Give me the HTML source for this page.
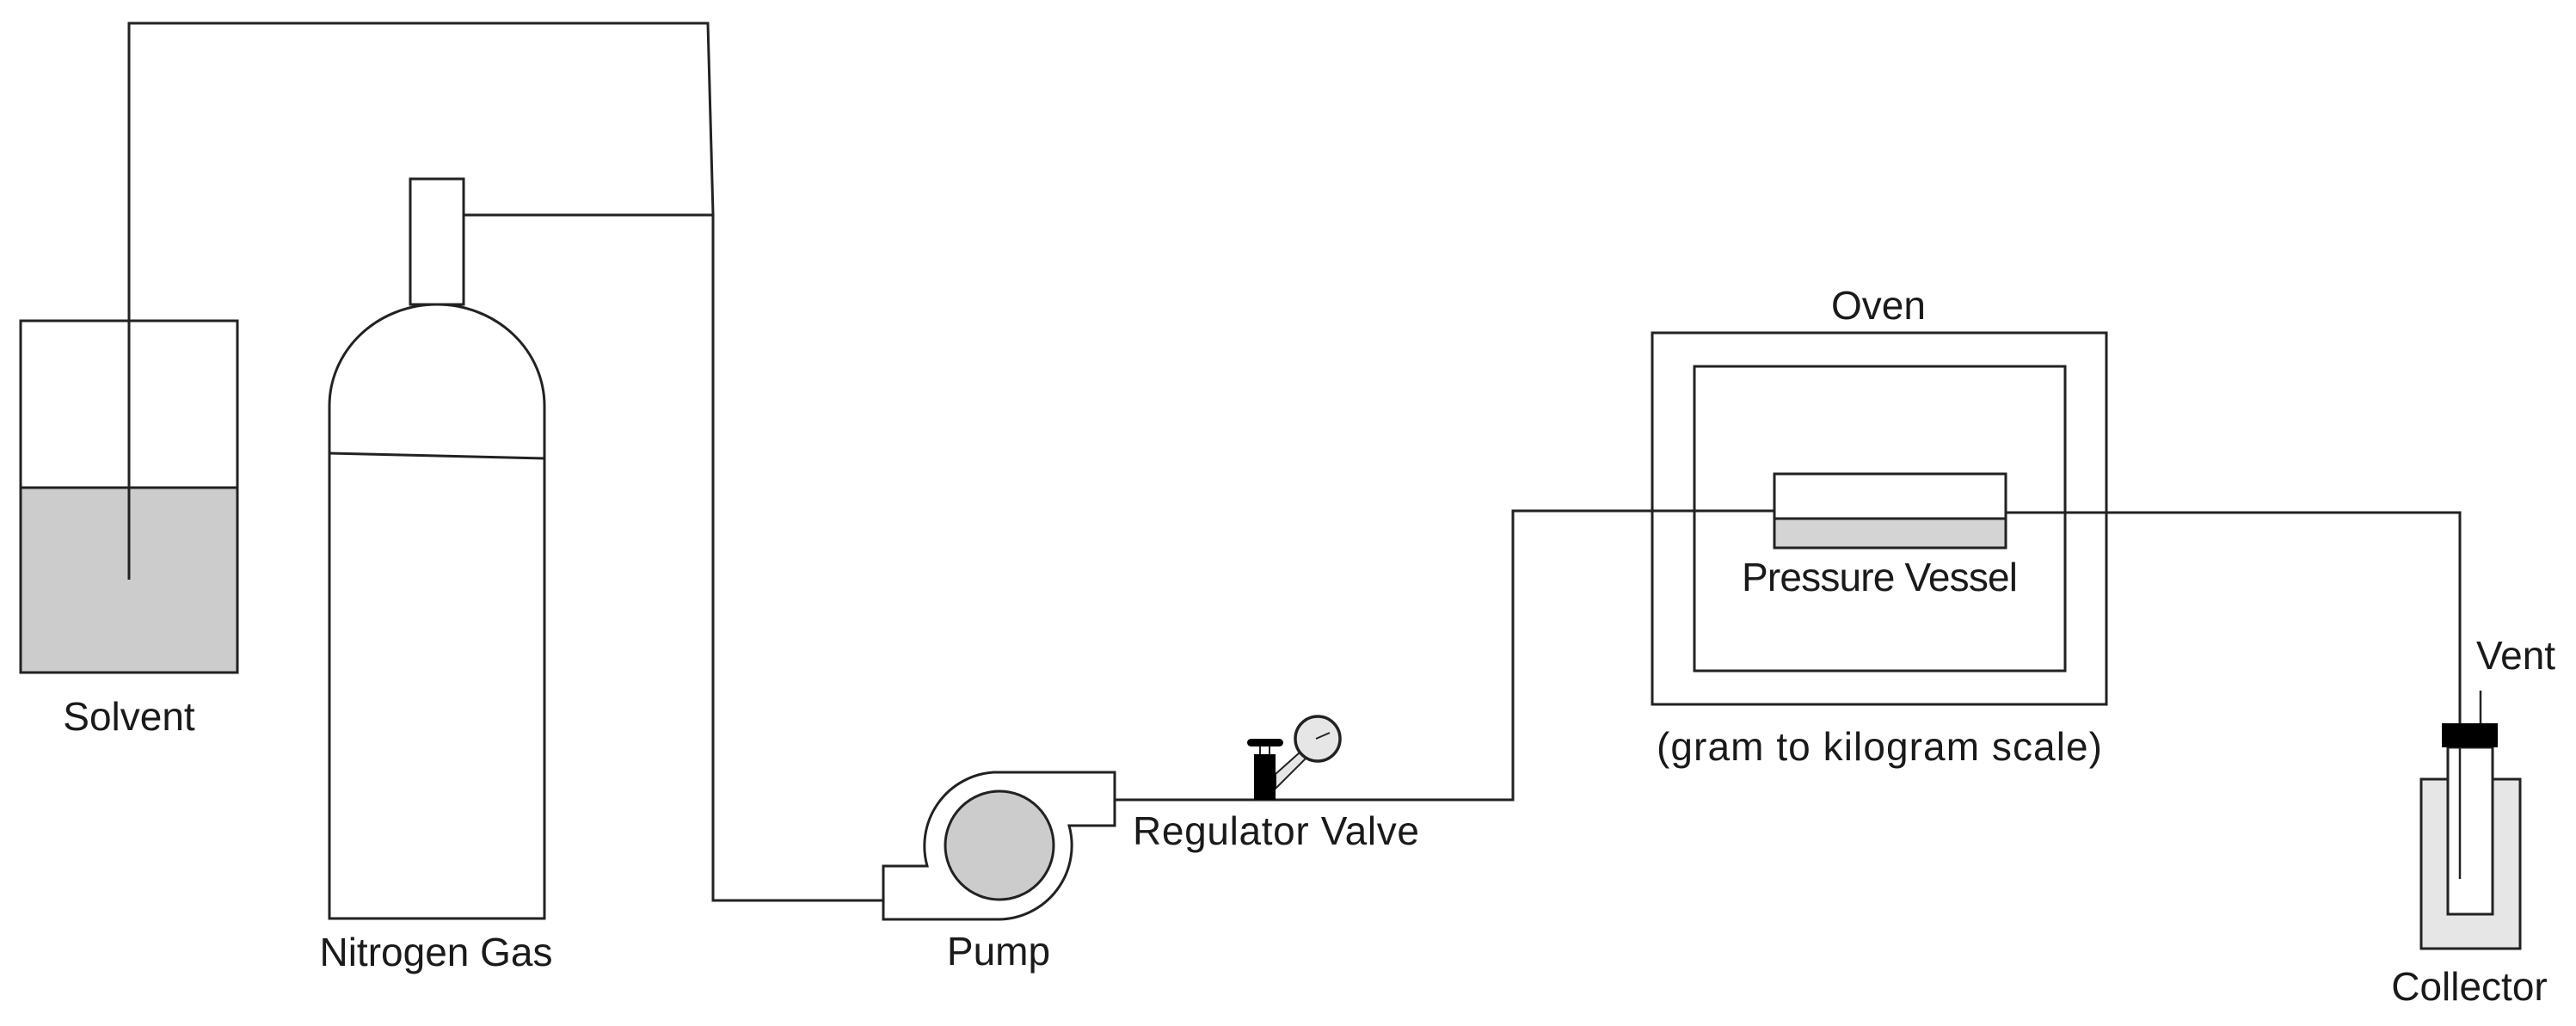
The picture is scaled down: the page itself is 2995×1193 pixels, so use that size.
<!DOCTYPE html>
<html><head><meta charset="utf-8"><style>
html,body{margin:0;padding:0;background:#fff;}
svg{display:block;}
text{font-family:"Liberation Sans",sans-serif;fill:#1a1a1a;}
</style></head><body>
<svg width="2995" height="1193" viewBox="0 0 2995 1193" xmlns="http://www.w3.org/2000/svg">
<g fill="none" stroke="#222" stroke-width="3">
<rect x="24" y="567" width="252" height="215" fill="#cccccc" stroke="none"/>
<rect x="24" y="373" width="252" height="409"/>
<line x1="24" y1="567" x2="276" y2="567"/>
<polyline points="150,674 150,27 823,27 829,249 829,1047 1027,1047"/>
<rect x="477" y="208" width="62" height="146"/>
<line x1="539" y1="250" x2="829" y2="250"/>
<path d="M383,1068 L383,472 A125,118 0 0 1 633,472 L633,1068 Z"/>
<line x1="383" y1="527" x2="633" y2="533"/>
<path d="M1027,1007 L1078,1007 A86,86 0 0 1 1155,898 L1296,898 L1296,960 L1243,960 A86,86 0 0 1 1161,1069 L1027,1069 Z" fill="#fff"/>
<circle cx="1162" cy="983" r="63" fill="#cccccc"/>
<polyline points="1296,930 1759,930 1759,594 2063,594"/>
<rect x="1921" y="387" width="528" height="432"/>
<rect x="1970" y="426" width="431" height="354"/>
<rect x="2063" y="603" width="269" height="34" fill="#d4d4d4"/>
<rect x="2063" y="551" width="269" height="86"/>
<line x1="2063" y1="603" x2="2332" y2="603"/>
<polyline points="2332,596 2860,596 2860,1022"/>
<rect x="2815" y="906" width="115" height="197" fill="#e6e6e6"/>
<rect x="2846" y="869" width="52" height="194" fill="#fff"/>
<line x1="2860" y1="860" x2="2860" y2="1022" stroke-width="2.5"/>
<line x1="2884" y1="803" x2="2884" y2="841" stroke-width="2.5"/>
</g>
<rect x="2839" y="841" width="65" height="28" fill="#000"/>
<g stroke="#222" stroke-width="2">
<line x1="1465" y1="866" x2="1465" y2="878"/>
<line x1="1476" y1="866" x2="1476" y2="878"/>
<polygon points="1483,900 1511,875 1518,882 1483,917" fill="#e6e6e6"/>
</g>
<rect x="1458" y="877" width="25" height="53" fill="#000"/>
<rect x="1450" y="859" width="42" height="9" rx="4.5" fill="#000"/>
<circle cx="1532" cy="859" r="26" fill="#e6e6e6" stroke="#222" stroke-width="3.5"/>
<line x1="1530" y1="859" x2="1546" y2="852" stroke="#222" stroke-width="2"/>
<text x="150" y="849" font-size="46" text-anchor="middle">Solvent</text>
<text x="507" y="1123" font-size="46" text-anchor="middle">Nitrogen Gas</text>
<text x="1161" y="1122" font-size="46" text-anchor="middle">Pump</text>
<text x="1317" y="982" font-size="46" textLength="333">Regulator Valve</text>
<text x="2184" y="371" font-size="46" text-anchor="middle">Oven</text>
<text x="2025" y="687" font-size="46" textLength="321">Pressure Vessel</text>
<text x="1926" y="884" font-size="46" textLength="518">(gram to kilogram scale)</text>
<text x="2879" y="778" font-size="46">Vent</text>
<text x="2871" y="1163" font-size="46" text-anchor="middle">Collector</text>
</svg>
</body></html>
